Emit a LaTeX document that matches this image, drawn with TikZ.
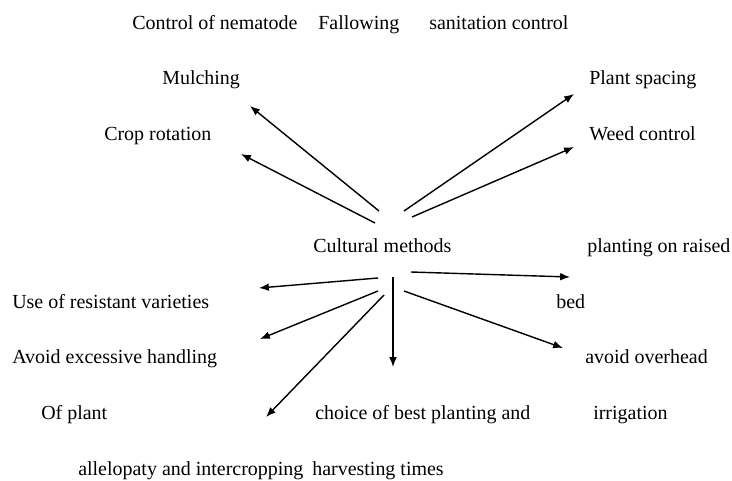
\documentclass[tikz,border=0pt]{standalone}
\usepackage{fontspec}
\setmainfont{Liberation Serif}
\newfontfamily\labelfont{Liberation Serif}
\usetikzlibrary{arrows.meta}
\tikzset{>={Latex[length=7pt,width=5.5pt]}}
\tikzset{
  txt/.style = {anchor=base west, inner sep=0pt, font=\labelfont\fontsize{14.2}{17}\selectfont},
  arr/.style = {->, line width=1pt}
}

\begin{document}
\begin{tikzpicture}[x=0.025cm,y=-0.025cm]
  \useasboundingbox (0,0) rectangle (732,481);
  % labels
  \node[txt] (nema)    at (132,29)  {Control of nematode};
  \node[txt] (fallow)  at (318,29)  {Fallowing};
  \node[txt] (sanit)   at (429,29)  {sanitation control};
  \node[txt] (mulch)   at (162,84)  {Mulching};
  \node[txt] (spacing) at (589,84)  {Plant spacing};
  \node[txt] (rotat)   at (104,140) {Crop rotation};
  \node[txt] (weed)    at (589,140) {Weed control};
  \node[txt] (cult)    at (313,252) {Cultural methods};
  \node[txt] (raised)  at (587,252) {planting on raised};
  \node[txt] (resist)  at (12,308)  {Use of resistant varieties};
  \node[txt] (bed)     at (556,308) {bed};
  \node[txt] (handl)   at (12,363)  {Avoid excessive handling};
  \node[txt] (overhd)  at (585,363) {avoid overhead};
  \node[txt] (ofplant) at (41,419)  {Of plant};
  \node[txt] (choice)  at (315,419) {choice of best planting and};
  \node[txt] (irrig)   at (593,419) {irrigation};
  \node[txt] (allelo)  at (78,475)  {allelopaty and intercropping};
  \node[txt] (harvest) at (312,475) {harvesting times};
  % arrow ends
  \coordinate (s-mulch)   at (379,211); \coordinate (e-mulch)   at (250,106);
  \coordinate (s-rotat)   at (375,223); \coordinate (e-rotat)   at (241,154);
  \coordinate (s-spacing) at (404,211); \coordinate (e-spacing) at (574,94);
  \coordinate (s-weed)    at (412,217); \coordinate (e-weed)    at (574,147);
  \coordinate (s-resist)  at (378,278); \coordinate (e-resist)  at (259,288);
  \coordinate (s-handl)   at (378,291); \coordinate (e-handl)   at (260,339);
  \coordinate (s-ofplant) at (384,295); \coordinate (e-ofplant) at (266,417);
  \coordinate (s-choice)  at (393,277); \coordinate (e-choice)  at (393,367);
  \coordinate (s-raised)  at (411,272); \coordinate (e-raised)  at (570,277);
  \coordinate (s-overhd)  at (404,291); \coordinate (e-overhd)  at (563,348);
  % arrows
  \draw[arr] (s-mulch)   -- (e-mulch);
  \draw[arr] (s-rotat)   -- (e-rotat);
  \draw[arr] (s-spacing) -- (e-spacing);
  \draw[arr] (s-weed)    -- (e-weed);
  \draw[arr] (s-resist)  -- (e-resist);
  \draw[arr] (s-handl)   -- (e-handl);
  \draw[arr] (s-ofplant) -- (e-ofplant);
  \draw[arr] (s-choice)  -- (e-choice);
  \draw[arr] (s-raised)  -- (e-raised);
  \draw[arr] (s-overhd)  -- (e-overhd);
\end{tikzpicture}
\end{document}
